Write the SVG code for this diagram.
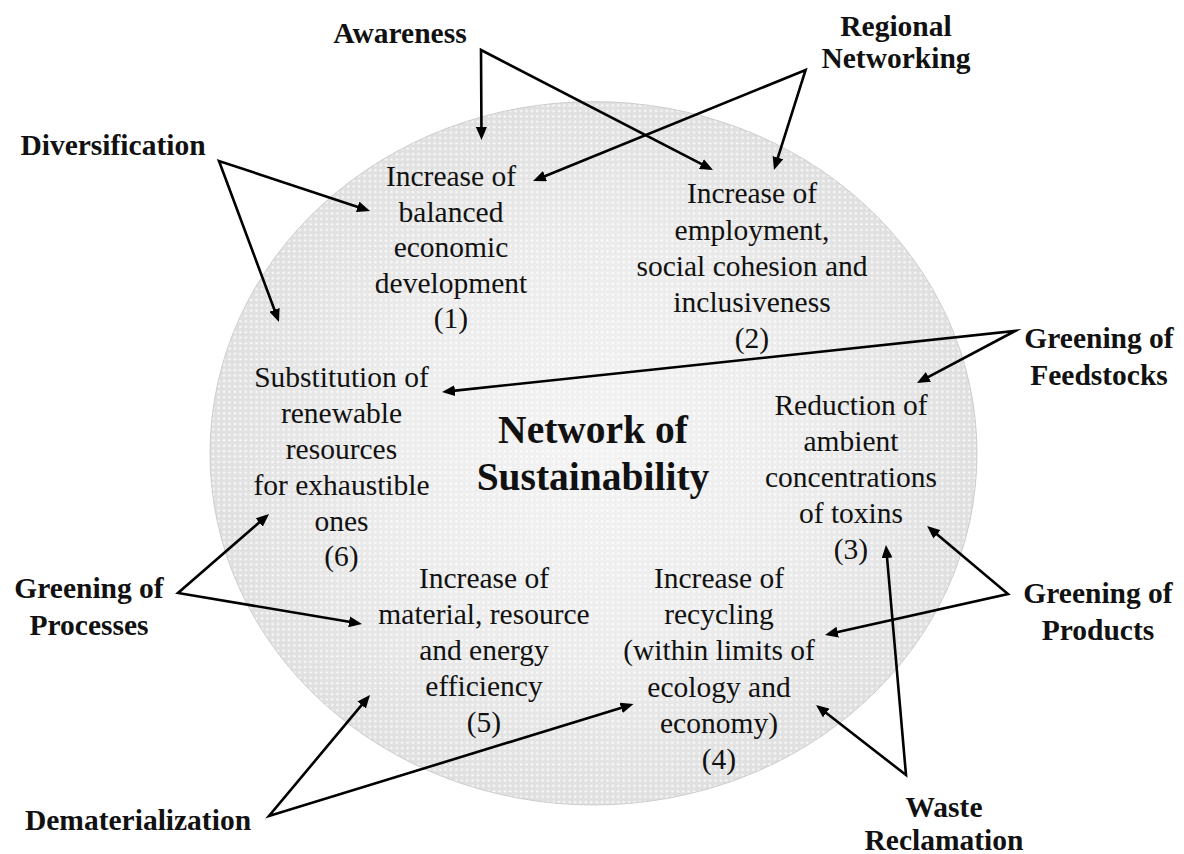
<svg xmlns="http://www.w3.org/2000/svg" width="1184" height="854" viewBox="0 0 1184 854">
  <style>
    .goal { font-family: "Liberation Serif", "Times New Roman", serif; font-size: 29.5px; fill: #111; text-anchor: middle; }
    .driver { font-family: "Liberation Serif", "Times New Roman", serif; font-size: 29.5px; font-weight: bold; fill: #111; text-anchor: middle; }
    .title { font-family: "Liberation Serif", "Times New Roman", serif; font-size: 39.5px; font-weight: bold; fill: #111; text-anchor: middle; }
    .link { fill: none; stroke: #000; stroke-width: 2.6; stroke-linejoin: miter; stroke-miterlimit: 20; marker-start: url(#head); marker-end: url(#head); }
  </style>
  <defs>
    <radialGradient id="disc" cx="0.5" cy="0.5" r="0.5">
      <stop offset="0" stop-color="#f3f3f3"/>
      <stop offset="0.6" stop-color="#ebebeb"/>
      <stop offset="1" stop-color="#dfdfdf"/>
    </radialGradient>
    <pattern id="grain" width="5.4" height="5.4" patternUnits="userSpaceOnUse">
      <rect x="2.2" y="1.4" width="1" height="3" fill="#ffffff" opacity="0.8"/>
      <rect x="1.2" y="2.4" width="3" height="1" fill="#ffffff" opacity="0.8"/>
    </pattern>
    <marker id="head" viewBox="0 0 13 11" markerUnits="userSpaceOnUse" markerWidth="13" markerHeight="11" refX="9" refY="5.5" orient="auto-start-reverse">
      <path d="M0,0 L13,5.5 L0,11 z" fill="#000"/>
    </marker>
  </defs>

  <rect width="1184" height="854" fill="#ffffff"/>

  <!-- background disc -->
  <g id="disc-bg">
    <ellipse cx="593.5" cy="453.3" rx="383.5" ry="351.7" fill="url(#disc)" stroke="#c4c4c4" stroke-width="0.8"/>
    <ellipse cx="593.5" cy="453.3" rx="383" ry="351.2" fill="url(#grain)"/>
  </g>

  <!-- connectors: each driver fans out to two goals -->
  <g id="connectors">
    <path class="link" d="M481.5,136 L481,50 L709.4,168.2"/>
    <path class="link" d="M536.7,179.5 L805.6,70 L775.2,166.2"/>
    <path class="link" d="M366.2,209.7 L219,161 L277.6,318.3"/>
    <path class="link" d="M446,391.6 L1015,331 L920.5,381.1"/>
    <path class="link" d="M930.1,528.6 L1008,594 L828.9,634.1"/>
    <path class="link" d="M886.3,549 L906,775 L819.2,707.5"/>
    <path class="link" d="M266,516.6 L178,593 L358,623.3"/>
    <path class="link" d="M367.4,698.1 L269,816 L629.7,705.2"/>
  </g>

  <g id="title">
    <text class="title" x="593" y="443">Network of</text>
    <text class="title" x="593" y="490">Sustainability</text>
  </g>

  <!-- goals -->
  <g id="goal-1">
    <text class="goal" x="451" y="186">Increase of</text>
    <text class="goal" x="451" y="221.5">balanced</text>
    <text class="goal" x="451" y="257">economic</text>
    <text class="goal" x="451" y="292.5">development</text>
    <text class="goal" x="451" y="328">(1)</text>
  </g>
  <g id="goal-2">
    <text class="goal" x="752" y="203">Increase of</text>
    <text class="goal" x="752" y="239.5">employment,</text>
    <text class="goal" x="752" y="276">social cohesion and</text>
    <text class="goal" x="752" y="312">inclusiveness</text>
    <text class="goal" x="752" y="348">(2)</text>
  </g>
  <g id="goal-3">
    <text class="goal" x="851" y="415">Reduction of</text>
    <text class="goal" x="851" y="451">ambient</text>
    <text class="goal" x="851" y="487">concentrations</text>
    <text class="goal" x="851" y="523">of toxins</text>
    <text class="goal" x="851" y="559">(3)</text>
  </g>
  <g id="goal-4">
    <text class="goal" x="719" y="588">Increase of</text>
    <text class="goal" x="719" y="624">recycling</text>
    <text class="goal" x="719" y="660">(within limits of</text>
    <text class="goal" x="719" y="697">ecology and</text>
    <text class="goal" x="719" y="733">economy)</text>
    <text class="goal" x="719" y="769">(4)</text>
  </g>
  <g id="goal-5">
    <text class="goal" x="484" y="588">Increase of</text>
    <text class="goal" x="484" y="624">material, resource</text>
    <text class="goal" x="484" y="660">and energy</text>
    <text class="goal" x="484" y="696">efficiency</text>
    <text class="goal" x="484" y="732">(5)</text>
  </g>
  <g id="goal-6">
    <text class="goal" x="341.5" y="387">Substitution of</text>
    <text class="goal" x="341.5" y="423">renewable</text>
    <text class="goal" x="341.5" y="459">resources</text>
    <text class="goal" x="341.5" y="495">for exhaustible</text>
    <text class="goal" x="341.5" y="531">ones</text>
    <text class="goal" x="341.5" y="566">(6)</text>
  </g>

  <!-- drivers -->
  <g id="awareness">
    <text class="driver" x="400" y="43">Awareness</text>
  </g>
  <g id="regional-networking">
    <text class="driver" x="896" y="36">Regional</text>
    <text class="driver" x="896" y="68">Networking</text>
  </g>
  <g id="diversification">
    <text class="driver" x="113" y="155">Diversification</text>
  </g>
  <g id="greening-feedstocks">
    <text class="driver" x="1099" y="348">Greening of</text>
    <text class="driver" x="1099" y="385">Feedstocks</text>
  </g>
  <g id="greening-products">
    <text class="driver" x="1098" y="603">Greening of</text>
    <text class="driver" x="1098" y="640">Products</text>
  </g>
  <g id="waste-reclamation">
    <text class="driver" x="944" y="817">Waste</text>
    <text class="driver" x="944" y="850">Reclamation</text>
  </g>
  <g id="greening-processes">
    <text class="driver" x="89" y="598">Greening of</text>
    <text class="driver" x="89" y="635">Processes</text>
  </g>
  <g id="dematerialization">
    <text class="driver" x="138" y="830">Dematerialization</text>
  </g>
</svg>
